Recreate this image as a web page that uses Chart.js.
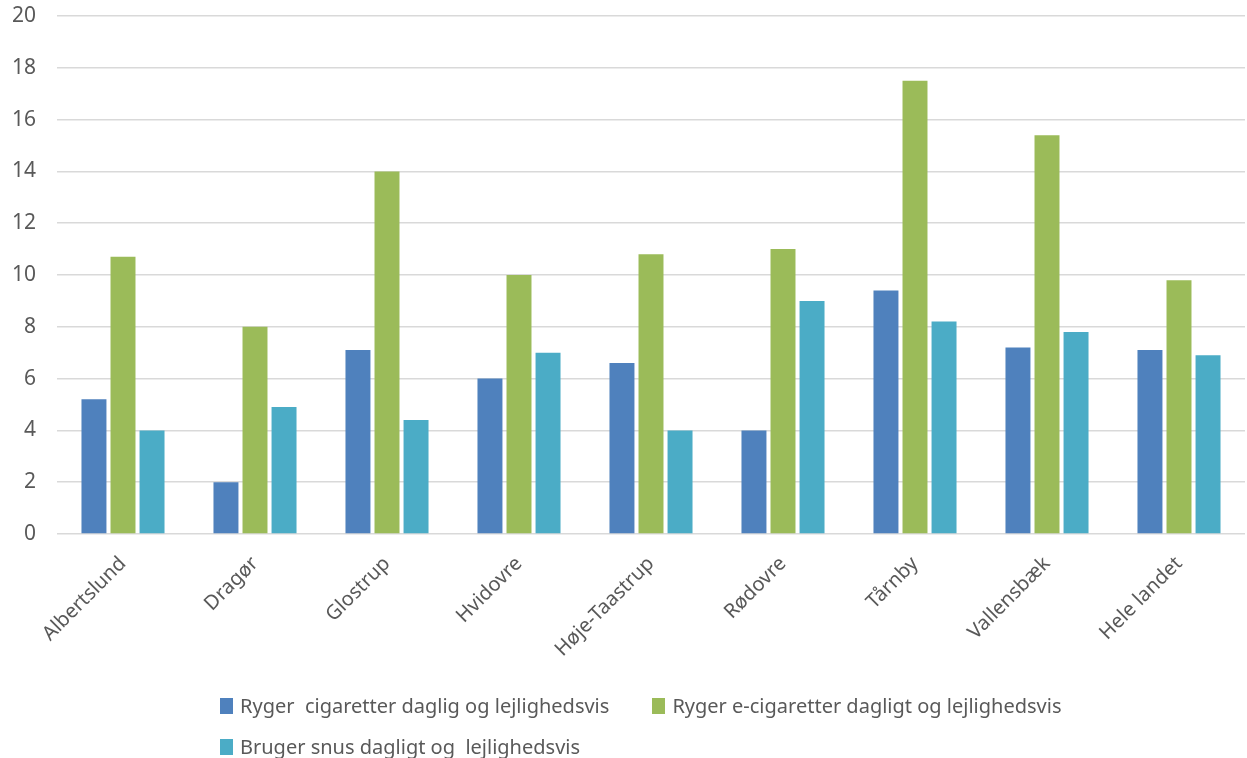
<!DOCTYPE html>
<html>
<head>
<meta charset="utf-8">
<script src="https://cdn.jsdelivr.net/npm/chart.js@4/dist/chart.umd.min.js"></script>
<style>
  html, body { margin: 0; padding: 0; background: #fff; }
  #wrap { position: relative; width: 1247px; height: 758px; }
  #c { position: absolute; left: 0; top: 0; }
  #legend { position: absolute; left: 220px; top: 685px; width: 950px;
            font-family: "Noto Sans", "Open Sans", sans-serif; font-size: 20px; color: #595959; }
  .row { display: flex; height: 41px; align-items: center; white-space: pre; }
  .item { display: flex; align-items: center; margin-right: 43px; }
  .box { width: 13px; height: 16px; margin-right: 7px; display: inline-block; }
</style>
</head>
<body>
<div id="wrap">
  <canvas id="c" width="1247" height="758"></canvas>
  <div id="legend"></div>
</div>
<script>
const categories = ["Albertslund", "Dragør", "Glostrup", "Hvidovre", "Høje-Taastrup", "Rødovre", "Tårnby", "Vallensbæk", "Hele landet"];
const seriesNames = ["Ryger  cigaretter daglig og lejlighedsvis", "Ryger e-cigaretter dagligt og lejlighedsvis", "Bruger snus dagligt og  lejlighedsvis"];
const cigaretter = [5.2, 2.0, 7.1, 6.0, 6.6, 4.0, 9.4, 7.2, 7.1];
const eCigaretter = [10.7, 8.0, 14.0, 10.0, 10.8, 11.0, 17.5, 15.4, 9.8];
const snus = [4.0, 4.9, 4.4, 7.0, 4.0, 9.0, 8.2, 7.8, 6.9];
const yTicks = [0, 2, 4, 6, 8, 10, 12, 14, 16, 18, 20];
const colors = ["#4F81BD", "#9BBB59", "#4BACC6"];

const seriesData = [cigaretter, eCigaretter, snus];
const datasets = seriesNames.map((name, i) => ({
  label: name,
  data: seriesData[i],
  backgroundColor: colors[i],
  borderWidth: 0,
  categoryPercentage: 0.66,
  barPercentage: 0.86
}));

new Chart(document.getElementById("c"), {
  type: "bar",
  data: { labels: categories, datasets },
  options: {
    responsive: false,
    animation: false,
    layout: { padding: { top: 16, right: 2, left: 0, bottom: 0 } },
    plugins: { legend: { display: false }, tooltip: { enabled: false } },
    scales: {
      x: {
        grid: { display: false },
        border: { display: false },
        ticks: {
          minRotation: 45, maxRotation: 45,
          color: "#595959",
          font: { family: "'Noto Sans', 'Open Sans', sans-serif", size: 20 },
          padding: 10
        },
        afterFit: (s) => { s.height = 224; s.paddingLeft = 0; s.paddingRight = 0; }
      },
      y: {
        min: 0, max: 20,
        afterBuildTicks: (s) => { s.ticks = yTicks.map(v => ({ value: v })); },
        grid: { color: "#d9d9d9", lineWidth: 1.5, drawTicks: false },
        border: { display: false },
        ticks: {
          color: "#595959",
          font: { family: "'Noto Sans', 'Open Sans', sans-serif", size: 21 },
          padding: 21
        },
        afterFit: (s) => { s.width = 57; s.paddingTop = 0; s.paddingBottom = 0; }
      }
    }
  }
});

const legend = document.getElementById("legend");
const rows = [[0, 1], [2]];
rows.forEach(r => {
  const row = document.createElement("div");
  row.className = "row";
  r.forEach(i => {
    const it = document.createElement("div");
    it.className = "item";
    const b = document.createElement("span");
    b.className = "box";
    b.style.background = colors[i];
    const t = document.createElement("span");
    t.textContent = seriesNames[i];
    it.appendChild(b); it.appendChild(t);
    row.appendChild(it);
  });
  legend.appendChild(row);
});
</script>
</body>
</html>
